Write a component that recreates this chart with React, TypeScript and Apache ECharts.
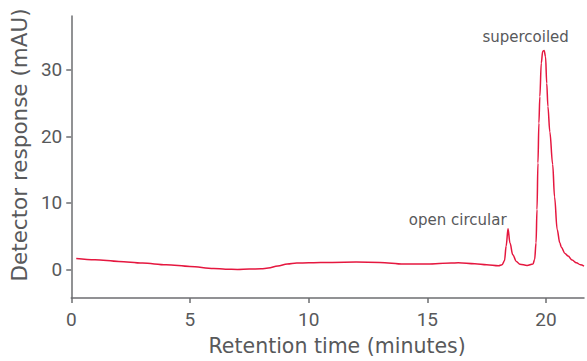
import React, { useEffect, useRef } from "react";
import * as echarts from "echarts";

const retentionTime: number[] = [
  0.21, 1, 2, 3, 4, 5, 6, 6.5, 7, 7.5, 8, 8.3, 8.7, 9.1, 9.5, 10, 11, 12, 13, 14, 15, 16, 16.3, 17, 17.5, 18.0,
  18.15, 18.25, 18.32, 18.4, 18.48, 18.6, 18.75, 18.9, 19.2, 19.45, 19.52, 19.58, 19.62, 19.66, 19.7, 19.74,
  19.8, 19.86, 19.92, 19.98, 20.03, 20.08, 20.16, 20.28, 20.36, 20.47, 20.58, 20.65, 20.8, 20.93, 21.1, 21.28,
  21.45, 21.6,
];
const response: number[] = [
  1.65, 1.45, 1.2, 0.95, 0.7, 0.45, 0.15, 0.02, 0.0, 0.05, 0.1, 0.2, 0.5, 0.8, 0.95, 1.0, 1.05, 1.1, 1.05, 0.8,
  0.8, 0.95, 1.0, 0.85, 0.7, 0.55,
  0.7, 1.3, 3.5, 6.1, 4.0, 2.2, 1.2, 0.77, 0.6, 0.8, 1.5, 4, 9, 16, 22, 26,
  31, 32.8, 32.9, 32, 28, 24.5, 20.7, 15.8, 10.9, 6.0, 4.0, 3.3, 2.4, 2.0, 1.4, 1.0,
  0.7, 0.5,
];
const xTicks: number[] = [0, 5, 10, 15, 20];
const yTicks: number[] = [0, 10, 20, 30];
const peakLabels = [
  { name: "open circular", at: [16.28, 6.1], gap: 1 },
  { name: "supercoiled", at: [19.14, 32.9], gap: 6 },
];

const TEXT = "#58595b";
const AXIS = "#6d6e71";
const RED = "#e5173f";
const NUM_FONT = "Roboto";
const WORD_FONT = "DejaVu Sans";

export default function App() {
  const ref = useRef<HTMLDivElement>(null);
  useEffect(() => {
    if (!ref.current) return;
    const chart = echarts.init(ref.current, undefined, { renderer: "svg" });
    chart.setOption({
      animation: false,
      grid: { left: 67, right: 3, top: 16, bottom: 58.5 },
      xAxis: {
        type: "value",
        min: 0,
        max: 21.6,
        name: "Retention time (minutes)",
        nameLocation: "middle",
        nameGap: 37,
        nameTextStyle: { color: TEXT, fontSize: 20.5, fontFamily: WORD_FONT, padding: [0, 0, 0, 19] },
        axisLine: { show: true, onZero: false, lineStyle: { color: AXIS, width: 1.5 } },
        axisTick: { show: true, length: 5, customValues: xTicks, lineStyle: { color: AXIS, width: 1.5 } },
        axisLabel: { customValues: xTicks, color: TEXT, fontSize: 19, fontFamily: NUM_FONT, margin: 12 },
        splitLine: { show: false },
      },
      yAxis: {
        type: "value",
        min: -4.3,
        max: 38.1,
        name: "Detector response (mAU)",
        nameLocation: "middle",
        nameGap: 33,
        nameTextStyle: { color: TEXT, fontSize: 21.5, fontFamily: WORD_FONT, padding: [0, 0, 0, 24] },
        axisLine: { show: true, onZero: false, lineStyle: { color: AXIS, width: 1.5 } },
        axisTick: { show: true, length: 5, customValues: yTicks, lineStyle: { color: AXIS, width: 1.5 } },
        axisLabel: { customValues: yTicks, color: TEXT, fontSize: 19, fontFamily: NUM_FONT, margin: 9 },
        splitLine: { show: false },
      },
      series: [
        {
          type: "line",
          data: retentionTime.map((t, i) => [t, response[i]]),
          showSymbol: false,
          smooth: 0.35,
          smoothMonotone: "x",
          lineStyle: { color: RED, width: 1.5 },
          markPoint: {
            symbol: "circle",
            symbolSize: 0,
            silent: true,
            data: peakLabels.map((p) => ({
              coord: p.at,
              label: {
                show: true,
                formatter: p.name,
                position: "top",
                distance: p.gap,
                color: TEXT,
                fontSize: 15,
                fontFamily: WORD_FONT,
              },
            })),
          },
        },
      ],
    });
    return () => chart.dispose();
  }, []);
  return <div ref={ref} style={{ width: 587, height: 361, position: "absolute", left: 0, top: 0 }} />;
}
